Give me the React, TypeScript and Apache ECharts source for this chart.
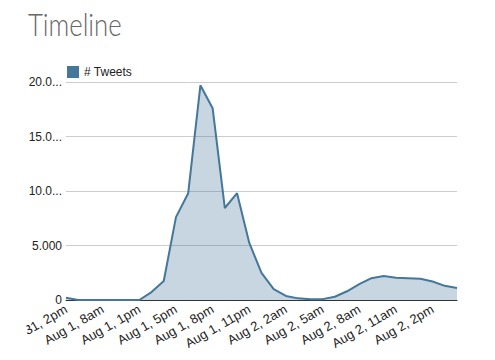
import React, { useEffect, useRef } from "react";
import * as echarts from "echarts";

const categories = [
  "Jul 31, 2pm", "Jul 31, 9pm", "Aug 1, 3am", "Aug 1, 8am", "Aug 1, 10am", "Aug 1, 12pm",
  "Aug 1, 1pm", "Aug 1, 2pm", "Aug 1, 4pm", "Aug 1, 5pm", "Aug 1, 6pm", "Aug 1, 7pm",
  "Aug 1, 8pm", "Aug 1, 9pm", "Aug 1, 10pm", "Aug 1, 11pm", "Aug 2, 12am", "Aug 2, 1am",
  "Aug 2, 2am", "Aug 2, 3am", "Aug 2, 4am", "Aug 2, 5am", "Aug 2, 6am", "Aug 2, 7am",
  "Aug 2, 8am", "Aug 2, 9am", "Aug 2, 10am", "Aug 2, 11am", "Aug 2, 12pm", "Aug 2, 1pm",
  "Aug 2, 2pm", "Aug 2, 3pm", "Aug 2, 4pm",
];

const tweets = [
  200, 0, 0, 0, 0, 0,
  0, 730, 1740, 7600, 9800, 19700,
  17600, 8440, 9800, 5230, 2480, 1000,
  370, 150, 80, 80, 300, 800,
  1450, 2000, 2200, 2050, 2000, 1950,
  1700, 1300, 1100,
];

const yTickValues = [0, 5000, 10000, 15000, 20000];
const yTickLabels = ["0", "5.000", "10.0...", "15.0...", "20.0..."];

export default function App() {
  const ref = useRef<HTMLDivElement>(null);
  useEffect(() => {
    if (!ref.current) return;
    const chart = echarts.init(ref.current, null, { renderer: "svg" });
    chart.setOption({
      animation: false,
      graphic: [
        {
          type: "text",
          x: 28,
          y: 9,
          scaleX: 0.83,
          style: {
            text: "Timeline",
            fontFamily: "Lato",
            fontSize: 31,
            fontWeight: 300,
            fill: "#666666",
          },
        },
        {
          type: "rect",
          z: 100,
          shape: { x: 0, y: 305, width: 26.5, height: 55 },
          style: { fill: "#ffffff" },
        },
      ],
      legend: {
        data: ["# Tweets"],
        left: 62,
        top: 61,
        icon: "rect",
        itemWidth: 12,
        itemHeight: 12,
        itemGap: 5,
        textStyle: { fontFamily: "Liberation Sans, Arial", fontSize: 12, color: "#222" },
      },
      grid: { left: 66, right: 38, top: 82, bottom: 60 },
      xAxis: {
        type: "category",
        data: categories,
        boundaryGap: false,
        axisTick: { show: false },
        axisLine: { lineStyle: { color: "#333", width: 1 } },
        axisLabel: {
          interval: 2,
          rotate: 30,
          margin: 8,
          fontFamily: "Liberation Sans, Arial",
          fontSize: 13,
          color: "#222",
        },
      },
      yAxis: {
        type: "value",
        min: 0,
        max: 20000,
        interval: 5000,
        axisLine: { show: false },
        axisTick: { show: false },
        splitLine: { lineStyle: { color: "#cccccc" } },
        axisLabel: {
          margin: 4,
          fontFamily: "Liberation Sans, Arial",
          fontSize: 12,
          color: "#222",
          formatter: (v: number) => {
            const i = yTickValues.indexOf(v);
            return i >= 0 ? yTickLabels[i] : "";
          },
        },
      },
      series: [
        {
          name: "# Tweets",
          type: "line",
          data: tweets,
          symbol: "none",
          lineStyle: { color: "#44779a", width: 2 },
          itemStyle: { color: "#44779a" },
          areaStyle: { color: "#44779a", opacity: 0.3 },
        },
      ],
    });
    return () => chart.dispose();
  }, []);
  return (
    <div
      ref={ref}
      style={{ position: "absolute", left: 0, top: 0, width: 495, height: 360, background: "#fff" }}
    />
  );
}
